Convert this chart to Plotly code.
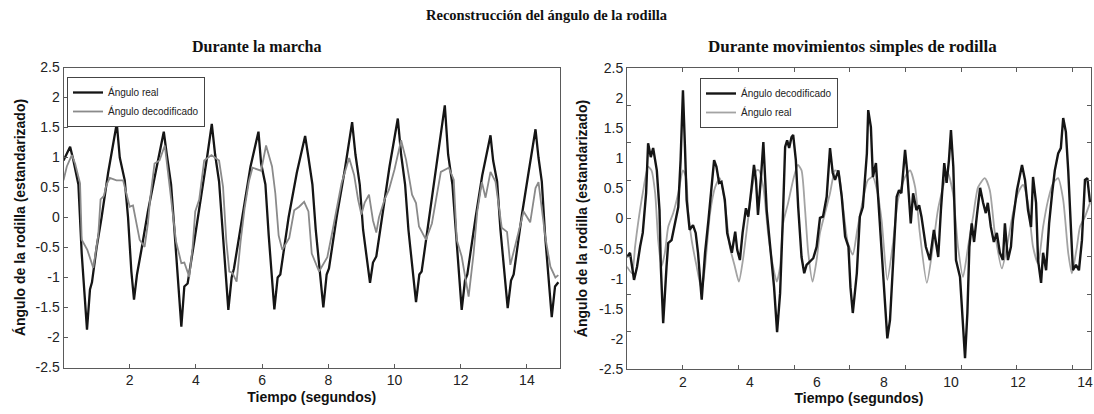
import plotly.graph_objects as go

W, H = 1094, 414

# ---- Durante la marcha: tiempo (s) y ángulo estandarizado ----
marcha_real_t = [0.00, 0.08, 0.20, 0.30, 0.38, 0.45, 0.55, 0.71, 0.80, 0.86, 1.00, 1.15, 1.35, 1.50, 1.61,
                 1.70, 1.85, 1.95, 2.05, 2.13, 2.22, 2.35, 2.55, 2.80, 3.03, 3.12, 3.25, 3.35, 3.45, 3.56,
                 3.65, 3.75, 3.95, 4.15, 4.35, 4.48, 4.58, 4.70, 4.80, 4.98, 5.08, 5.15, 5.40, 5.65, 5.89,
                 5.97, 6.10, 6.20, 6.37, 6.47, 6.55, 6.80, 7.05, 7.30, 7.40, 7.52, 7.62, 7.85, 7.95, 8.02,
                 8.25, 8.50, 8.72, 8.82, 8.95, 9.05, 9.26, 9.35, 9.45, 9.65, 9.85, 10.10, 10.20, 10.32,
                 10.42, 10.65, 10.75, 10.82, 11.05, 11.30, 11.52, 11.62, 11.75, 11.85, 12.03, 12.13, 12.20,
                 12.45, 12.65, 12.90, 12.98, 13.10, 13.20, 13.42, 13.52, 13.60, 13.85, 14.05, 14.26, 14.35,
                 14.45, 14.55, 14.75, 14.85, 14.95]
marcha_real_v = [0.95, 1.05, 1.18, 0.95, 0.70, 0.55, -0.60, -1.87, -1.20, -1.08, -0.50, 0.00, 0.75, 1.25, 1.57,
                 1.00, 0.62, 0.00, -0.90, -1.37, -0.95, -0.55, 0.10, 0.80, 1.43, 1.05, 0.55, -0.20, -1.00, -1.82,
                 -1.15, -1.10, -0.40, 0.30, 1.05, 1.56, 1.05, 0.60, -0.20, -1.54, -1.00, -0.85, 0.00, 0.85, 1.43,
                 0.90, 0.55, -0.30, -1.53, -1.00, -0.95, 0.00, 0.75, 1.36, 1.00, 0.55, -0.20, -1.50, -0.95, -0.85,
                 0.00, 0.80, 1.59, 1.05, 0.55, -0.20, -1.09, -0.75, -0.65, 0.10, 0.85, 1.65, 1.05, 0.55,
                 -0.20, -1.41, -0.95, -0.90, 0.00, 0.95, 1.87, 1.05, 0.55, -0.20, -1.54, -1.05, -0.95,
                 0.00, 0.70, 1.37, 0.95, 0.60, -0.20, -1.51, -1.05, -0.95, 0.05, 0.75, 1.47, 1.00,
                 0.60, -0.30, -1.66, -1.15, -1.08]

marcha_dec_t = [0.00, 0.10, 0.25, 0.35, 0.50, 0.55, 0.72, 0.90, 1.05, 1.12, 1.22, 1.30, 1.40, 1.60, 1.80,
                1.90, 2.00, 2.10, 2.20, 2.30, 2.45, 2.55, 2.62, 2.75, 2.90, 3.06, 3.20, 3.30, 3.40, 3.56,
                3.65, 3.80, 3.90, 3.98, 4.10, 4.25, 4.47, 4.70, 4.82, 4.92, 5.01, 5.10, 5.23, 5.35, 5.47,
                5.60, 5.71, 5.97, 6.12, 6.30, 6.40, 6.50, 6.61, 6.82, 6.97, 7.12, 7.27, 7.40, 7.50, 7.72,
                7.88, 7.97, 8.10, 8.23, 8.40, 8.63, 8.78, 8.90, 9.00, 9.10, 9.23, 9.35, 9.45, 9.53, 9.70,
                9.83, 10.00, 10.20, 10.35, 10.53, 10.65, 10.74, 10.95, 11.13, 11.25, 11.40, 11.64, 11.79,
                11.88, 12.03, 12.24, 12.39, 12.50, 12.64, 12.75, 12.90, 13.05, 13.24, 13.40, 13.50, 13.65,
                13.90, 14.10, 14.26, 14.35, 14.56, 14.71, 14.86, 14.95]
marcha_dec_v = [0.62, 0.85, 1.04, 0.90, 0.57, -0.37, -0.54, -0.84, -0.30, 0.30, 0.36, 0.55, 0.66, 0.62, 0.62,
                0.40, 0.18, 0.20, -0.10, -0.37, -0.49, -0.10, 0.32, 0.90, 0.95, 1.20, 0.55, 0.10, -0.40, -0.76,
                -0.75, -0.99, -0.50, 0.10, 0.30, 0.95, 1.04, 0.95, 0.51, -0.40, -0.90, -0.92, -1.07, -0.40, 0.15,
                0.60, 0.83, 0.78, 1.20, 0.85, 0.40, -0.30, -0.54, -0.34, 0.12, 0.18, 0.26, 0.10, -0.60, -0.90,
                -0.74, -0.66, -0.30, 0.05, 0.57, 0.99, 0.71, 0.30, 0.05, 0.25, 0.38, -0.05, -0.25, 0.00, 0.30,
                0.46, 0.80, 1.29, 0.96, 0.38, 0.24, -0.15, -0.37, -0.10, 0.30, 0.76, 0.83, 0.63,
                -0.37, -0.65, -1.32, -0.60, 0.10, 0.59, 0.33, 0.76, 0.60, -0.17, -0.24, -0.79, -0.46,
                0.10, -0.08, 0.49, 0.59, -0.34, -0.82, -1.00, -0.96]

# ---- Durante movimientos simples de rodilla ----
simple_dec_t = [0.33, 0.42, 0.54, 0.63, 0.72, 0.80, 0.90, 0.96, 1.04, 1.11, 1.22, 1.30, 1.34, 1.41, 1.51,
                1.56, 1.66, 1.77, 1.86, 1.93, 2.00, 2.06, 2.11, 2.20, 2.30, 2.38, 2.45, 2.56, 2.66, 2.76,
                2.86, 2.93, 3.00, 3.08, 3.15, 3.25, 3.32, 3.46, 3.56, 3.62, 3.70, 3.78, 3.88, 3.95, 4.05,
                4.12, 4.18, 4.24, 4.33, 4.40, 4.50, 4.60, 4.72, 4.81, 4.90, 4.98, 5.05, 5.11, 5.17, 5.24,
                5.29, 5.37, 5.44, 5.54, 5.62, 5.69, 5.79, 5.89, 5.99, 6.09, 6.18, 6.29, 6.39, 6.47, 6.54,
                6.64, 6.74, 6.84, 6.94, 7.00, 7.07, 7.19, 7.28, 7.37, 7.49, 7.53, 7.61, 7.67, 7.76, 7.83,
                7.93, 8.03, 8.10, 8.18, 8.27, 8.38, 8.45, 8.52, 8.63, 8.69, 8.80, 8.87, 8.97, 9.05, 9.12,
                9.25, 9.37, 9.49, 9.55, 9.62, 9.70, 9.80, 9.87, 9.94, 10.00, 10.07, 10.15, 10.27, 10.35,
                10.42, 10.49, 10.55, 10.62, 10.69, 10.77, 10.87, 10.96, 11.04, 11.10, 11.19, 11.28, 11.37,
                11.46, 11.55, 11.61, 11.70, 11.79, 11.85, 11.97, 12.12, 12.21, 12.30, 12.39, 12.45, 12.54,
                12.60, 12.69, 12.75, 12.84, 12.93, 13.02, 13.10, 13.20, 13.28, 13.35, 13.43, 13.50, 13.58,
                13.64, 13.73, 13.82, 13.91, 14.00, 14.07, 14.15]
simple_dec_v = [-0.64, -0.57, -1.02, -0.80, -0.47, -0.24, 0.42, 1.25, 1.02, 1.17, 0.80, 0.14, -0.80, -1.74, -0.80,
                -0.41, -0.36, -0.08, 0.19, 0.97, 2.13, 1.19, 0.31, -0.19, -0.11, -0.24, -0.57, -1.35, -0.57, -0.03,
                0.52, 0.97, 0.86, 0.59, 0.61, 0.31, -0.24, -0.57, -0.22, -0.52, -0.69, -0.24, 0.17, 0.03, 0.52,
                0.89, 0.64, 0.06, 0.69, 1.27, 0.14, -0.47, -1.14, -1.89, -1.24, -0.03, 1.19, 1.30, 1.17, 1.35,
                1.39, 0.97, 0.19, -0.64, -0.91, -0.77, -0.72, -0.66, -0.47, 0.01, 0.03, 0.36, 1.17, 0.76, 0.64,
                0.80, 0.36, -0.30, -0.47, -1.14, -1.57, -0.91, 0.03, 0.19, 1.08, 1.80, 1.52, 0.69, 0.92, 0.31,
                -0.69, -1.57, -1.99, -1.69, -0.69, 0.36, 0.47, 0.42, 1.14, 0.80, -0.08, 0.42, 0.14, 0.22, 0.03,
                -0.47, -0.69, -0.19, -0.39, -0.64, 0.14, 0.92, 0.59, 0.97, 1.47, 0.86, -0.69, -0.97, -1.69,
                -2.32, -1.57, -0.47, -0.08, -0.39, 0.03, 0.51, 0.26, 0.09, 0.26, -0.14, -0.39, -0.24,
                -0.57, -0.69, -0.08, -0.69, -0.47, -0.03, 0.47, 0.89, 0.64, 0.14, -0.14, 0.69, 0.26,
                -0.69, -1.07, -0.57, -0.86, -0.08, 0.42, 0.80, 1.08, 1.17, 1.67, 1.44, 0.80, -0.24,
                -0.86, -0.77, -0.86, -0.36, 0.64, 0.67, 0.27]

simple_real_t = [0.33, 0.48, 0.57, 0.66, 0.80, 0.96, 1.06, 1.17, 1.26, 1.36, 1.46, 1.56, 1.71, 1.86, 2.00,
                 2.09, 2.16, 2.26, 2.41, 2.56, 2.66, 2.81, 2.96, 3.10, 3.25, 3.40, 3.55, 3.67, 3.79, 3.94,
                 4.09, 4.20, 4.27, 4.40, 4.54, 4.69, 4.80, 4.90, 4.99, 5.14, 5.29, 5.43, 5.54, 5.64, 5.74,
                 5.87, 5.99, 6.09, 6.24, 6.39, 6.54, 6.64, 6.78, 6.92, 7.07, 7.20, 7.37, 7.52, 7.67, 7.80,
                 7.93, 8.10, 8.27, 8.42, 8.63, 8.78, 8.93, 9.07, 9.28, 9.46, 9.61, 9.82, 9.91, 10.06, 10.21,
                 10.36, 10.51, 10.66, 10.81, 11.01, 11.16, 11.31, 11.52, 11.67, 11.85, 12.00, 12.15, 12.30,
                 12.45, 12.60, 12.75, 12.90, 13.05, 13.20, 13.35, 13.50, 13.61, 13.76, 13.85, 14.00, 14.15]
simple_real_v = [-0.80, -0.91, -0.47, -0.08, 0.42, 0.86, 0.80, 0.42, -0.36, -0.80, -0.57, -0.14, 0.09, 0.42, 0.80,
                 0.69, 0.09, -0.36, -0.80, -1.19, -0.80, 0.09, 0.52, 0.67, 0.26, -0.47, -0.80, -1.05, -0.69, -0.03,
                 0.59, 0.80, 0.80, 0.52, -0.24, -0.80, -1.05, -0.80, -0.08, 0.26, 0.64, 0.89, 0.80, 0.19, -0.57,
                 -1.05, -0.69, -0.24, 0.09, 0.42, 0.80, 0.77, 0.19, -0.40, -0.60, -0.20, 0.31, 0.64, 0.69, 0.45,
                 -0.03, -1.02, -0.41, 0.31, 0.69, 0.80, 0.52, -0.24, -1.07, -0.47, 0.14, 0.64, 0.75, 0.42, -0.47,
                 -0.97, -0.47, 0.03, 0.52, 0.67, 0.47, -0.24, -0.83, -0.47, 0.09, 0.42, 0.56, 0.26,
                 -0.47, -0.75, -0.14, 0.31, 0.59, 0.67, 0.31, -0.57, -0.91, -0.47, -0.14, 0.03, 0.26]

y_ticks = [-2.5, -2, -1.5, -1, -0.5, 0, 0.5, 1, 1.5, 2, 2.5]
y_tick_text = ["-2.5", "-2", "-1.5", "-1", "-0.5", "0", "0.5", "1", "1.5", "2", "2.5"]
x_ticks = [2, 4, 6, 8, 10, 12, 14]
# inner tick marks of the right-hand frame
simple_x_marks = [2.0, 3.66, 5.32, 6.98, 8.64, 10.30, 11.96, 13.62]
simple_y_marks = [-1.884, -1.256, -0.628, 0.0, 0.628, 1.256, 1.884]

SANS = "Liberation Sans, Arial, sans-serif"
SERIF = "Liberation Serif, Times New Roman, serif"
BLACK = "#151515"
GREY_L = "#8a8a8a"
GREY_R = "#a3a3a3"
FRAME = "#5a5a5a"


def px(x):
    return x / W


def py(y):
    return 1 - y / H


fig = go.Figure()

fig.add_trace(go.Scatter(x=marcha_real_t, y=marcha_real_v, mode="lines", name="Ángulo real",
                         line=dict(color=BLACK, width=2.3), xaxis="x", yaxis="y", legend="legend"))
fig.add_trace(go.Scatter(x=marcha_dec_t, y=marcha_dec_v, mode="lines", name="Ángulo decodificado",
                         line=dict(color=GREY_L, width=1.8), xaxis="x", yaxis="y", legend="legend"))
fig.add_trace(go.Scatter(x=simple_real_t, y=simple_real_v, mode="lines", name="Ángulo real",
                         line=dict(color=GREY_R, width=1.8, shape="spline", smoothing=0.6),
                         xaxis="x2", yaxis="y2", legend="legend2"))
fig.add_trace(go.Scatter(x=simple_dec_t, y=simple_dec_v, mode="lines", name="Ángulo decodificado",
                         line=dict(color=BLACK, width=2.4), xaxis="x2", yaxis="y2", legend="legend2"))
# empty trace so the overlay tick axes get drawn
fig.add_trace(go.Scatter(x=[None], y=[None], xaxis="x3", yaxis="y3", showlegend=False,
                         hoverinfo="skip"))

tick_font = dict(family=SANS, size=14, color="#222222")
title_font = dict(family=SANS, size=14, color="#111111")

dom_l = [px(63.5), px(560)]
dom_r = [px(627), px(1091)]
dom_y = [py(367.5), py(67.5)]
dom_y2 = [py(369), py(68)]

common = dict(showgrid=False, zeroline=False, showline=True, linecolor=FRAME, linewidth=1,
              mirror=True, tickfont=tick_font, automargin=False, ticklen=4, tickcolor=FRAME)

fig.update_layout(
    width=W, height=H, margin=dict(l=0, r=0, t=0, b=0),
    paper_bgcolor="white", plot_bgcolor="white",
    xaxis=dict(domain=dom_l, range=[0, 15], tickvals=x_ticks, ticks="inside", anchor="y",
               title=dict(text="<b>Tiempo (segundos)</b>", font=title_font, standoff=4), **common),
    yaxis=dict(domain=dom_y, range=[-2.5, 2.5], tickvals=y_ticks, ticktext=y_tick_text,
               ticks="inside", anchor="x",
               title=dict(text="<b>Ángulo de la rodilla (estandarizado)</b>", font=title_font, standoff=6),
               **common),
    xaxis2=dict(domain=dom_r, range=[0.33, 14.18], tickvals=x_ticks, ticks="", anchor="y2",
                title=dict(text="<b>Tiempo (segundos)</b>", font=title_font, standoff=4), **common),
    yaxis2=dict(domain=dom_y2, range=[-2.5, 2.5], tickvals=y_ticks, ticktext=y_tick_text,
                ticks="", anchor="x2",
                title=dict(text="<b>Ángulo de la rodilla (estandarizado)</b>", font=title_font, standoff=8),
                **common),
    xaxis3=dict(overlaying="x2", range=[0.33, 14.18], tickvals=simple_x_marks, ticks="inside",
                showticklabels=False, showgrid=False, zeroline=False, showline=False,
                mirror="ticks", ticklen=4, tickcolor=FRAME, anchor="y3", side="bottom"),
    yaxis3=dict(overlaying="y2", range=[-2.5, 2.5], tickvals=simple_y_marks, ticks="inside",
                showticklabels=False, showgrid=False, zeroline=False, showline=False,
                mirror="ticks", ticklen=4, tickcolor=FRAME, anchor="x3", side="left"),
    legend=dict(x=px(67), y=py(77), xanchor="left", yanchor="top", bgcolor="white",
                bordercolor="#444444", borderwidth=1, font=dict(family=SANS, size=10, color="#222"),
                tracegroupgap=0, itemwidth=30),
    legend2=dict(x=px(700), y=py(78), xanchor="left", yanchor="top", bgcolor="white",
                 bordercolor="#444444", borderwidth=1, font=dict(family=SANS, size=10, color="#222"),
                 tracegroupgap=0, itemwidth=30, traceorder="reversed"),
    showlegend=True,
)

fig.add_annotation(text="<b>Reconstrucción del ángulo de la rodilla</b>", x=px(547), y=py(15),
                   xref="paper", yref="paper", xanchor="center", yanchor="middle", showarrow=False,
                   font=dict(family=SERIF, size=14.5, color="#111"))
fig.add_annotation(text="<b>Durante la marcha</b>", x=px(256), y=py(46),
                   xref="paper", yref="paper", xanchor="center", yanchor="middle", showarrow=False,
                   font=dict(family=SERIF, size=16, color="#111"))
fig.add_annotation(text="<b>Durante movimientos simples de rodilla</b>", x=px(852), y=py(46),
                   xref="paper", yref="paper", xanchor="center", yanchor="middle", showarrow=False,
                   font=dict(family=SERIF, size=17, color="#111"))

fig.write_html("out.html")
